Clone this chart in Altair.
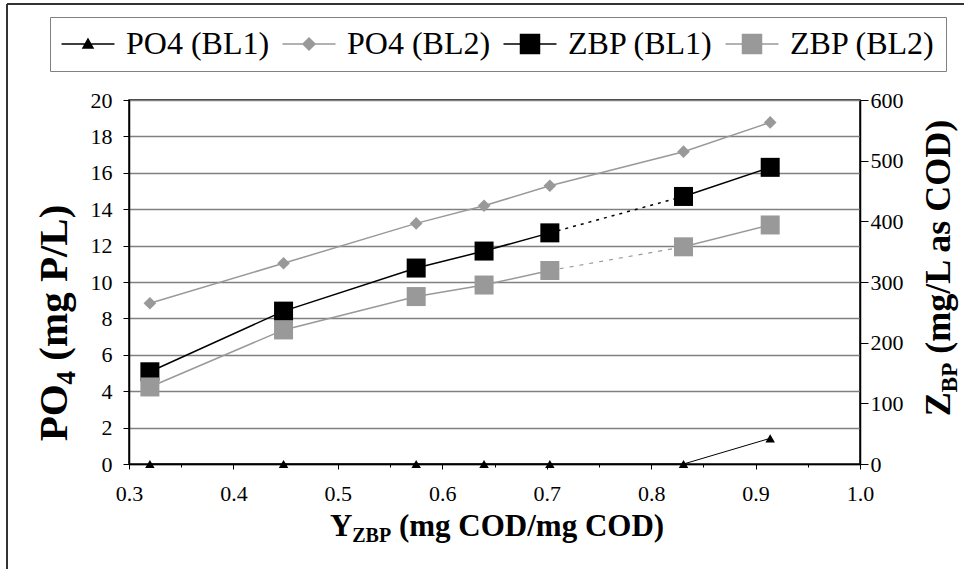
import altair as alt
import pandas as pd
import numpy as np

# ---------------- data ----------------
x_vals = [0.320, 0.448, 0.575, 0.640, 0.703, 0.831, 0.914]
po4_bl1 = [0, 0, 0, 0, 0, 0, 1.41]
po4_bl2 = [8.83, 11.03, 13.22, 14.19, 15.29, 17.16, 18.77]
zbp_bl1 = [152, 252, 323, 351, 381, 441, 489]
zbp_bl2 = [127, 221, 276, 295, 319, 358, 394]
series_names = ["PO4 (BL1)", "PO4 (BL2)", "ZBP (BL1)", "ZBP (BL2)"]
x_ticks = [round(0.3 + 0.05 * i, 2) for i in range(15)]
left_ticks = list(range(0, 21, 2))
right_ticks = list(range(0, 601, 100))
gap_start = 4  # ZBP lines are dotted between this point and the next

# ---------------- styling ----------------
W, H = 731, 364
PAD = {"left": 129, "top": 100, "right": 104, "bottom": 105}
BLACK, GRAY, GRID = "#000000", "#999999", "#808080"
SERIF = "Liberation Serif"

rows = []
for name, vals in zip(series_names, [po4_bl1, po4_bl2, zbp_bl1, zbp_bl2]):
    for i, (xv, yv) in enumerate(zip(x_vals, vals)):
        rows.append({"series": name, "x": xv, "y": yv, "idx": i})
df = pd.DataFrame(rows)
df["seg"] = np.where(df["idx"] <= gap_start, "a", "b")
zbp = df[df["series"].str.startswith("ZBP")]
zbp_gap = zbp[zbp["idx"].isin([gap_start, gap_start + 1])]

x_enc = alt.X(
    "x:Q",
    scale=alt.Scale(domain=[0.3, 1.0], nice=False, zero=False),
    axis=alt.Axis(
        values=x_ticks,
        labelExpr="(round(datum.value*100) % 10 == 0) ? format(datum.value, '.1f') : ''",
        title=None, grid=False, domainColor=BLACK, domainWidth=1.5,
        tickColor=BLACK, tickWidth=1,
        tickSize={"condition": {"test": "round(datum.value*100) % 10 == 0", "value": 5}, "value": 3},
        labelFont=SERIF, labelFontSize=22, labelColor=BLACK, labelPadding=14,
        labelFlush=False,
    ),
)
yl_scale = alt.Scale(domain=[0, 20], nice=False)
yr_scale = alt.Scale(domain=[0, 600], nice=False)
yl_axis = alt.Axis(
    orient="left", values=left_ticks, title=None, grid=True, gridColor=GRID,
    gridWidth=1.5, domainColor=BLACK, domainWidth=1.5, tickColor=BLACK, tickSize=6,
    labelFont=SERIF, labelFontSize=22, labelColor=BLACK, labelPadding=11,
)
yr_axis = alt.Axis(
    orient="right", values=right_ticks, title=None, grid=False,
    domainColor=BLACK, domainWidth=1.5, tickColor=BLACK, tickSize=8,
    labelFont=SERIF, labelFontSize=22, labelColor=BLACK, labelPadding=2,
)

def ser(data, name):
    return alt.Chart(data).transform_filter(alt.datum.series == name)

yl = alt.Y("y:Q", scale=yl_scale, axis=yl_axis)
yr = alt.Y("y:Q", scale=yr_scale, axis=yr_axis)

po4_line1 = ser(df, "PO4 (BL1)").mark_line(color=BLACK, strokeWidth=1).encode(x=x_enc, y=yl)
po4_line2 = ser(df, "PO4 (BL2)").mark_line(color=GRAY, strokeWidth=1.5).encode(x=x_enc, y=yl)
po4_pt1 = ser(df, "PO4 (BL1)").mark_point(shape="triangle-up", filled=True, size=90, color=BLACK, opacity=1).encode(x=x_enc, y=yl)
po4_pt2 = ser(df, "PO4 (BL2)").mark_point(shape="diamond", filled=True, size=160, color=GRAY, opacity=1).encode(x=x_enc, y=yl)

# legend built from scales (no visible marks)
leg_paths = [
    "M-5.3,0H5.3M0,-1L1,0.8L-1,0.8Z",
    "M-5.3,0H5.3M-1.2,0L0,-1.2L1.2,0L0,1.2Z",
    "M-5.3,0H5.3M-1.9,-1.9H1.9V1.9H-1.9Z",
    "M-5.3,0H5.3M-1.9,-1.9H1.9V1.9H-1.9Z",
]
leg_colors = [BLACK, GRAY, BLACK, GRAY]
leg = alt.Legend(
    title=None, orient="none", legendX=-79, legendY=-83, direction="horizontal",
    columns=4, labelFont=SERIF, labelFontSize=32, labelColor=BLACK,
    symbolSize=100, symbolStrokeWidth=1.5, symbolOffset=11, labelOffset=22,
    columnPadding=9, padding=11, strokeColor=GRID, labelLimit=400,
)
cscale = alt.Scale(domain=series_names, range=leg_colors)
legend_layer = alt.Chart(df).transform_filter("false").mark_point(opacity=1, strokeWidth=1.5).encode(
    x=x_enc, y=yl,
    fill=alt.Fill("series:N", scale=cscale, legend=leg),
    stroke=alt.Stroke("series:N", scale=cscale, legend=leg),
    shape=alt.Shape("series:N", scale=alt.Scale(domain=series_names, range=leg_paths), legend=leg),
)

left = alt.layer(po4_line2, po4_line1, po4_pt2, po4_pt1, legend_layer)

zl1 = ser(zbp, "ZBP (BL1)").mark_line(color=BLACK, strokeWidth=1.5).encode(x=x_enc, y=yr, detail="seg:N")
zl2 = ser(zbp, "ZBP (BL2)").mark_line(color=GRAY, strokeWidth=1.5).encode(x=x_enc, y=yr, detail="seg:N")
zd1 = ser(zbp_gap, "ZBP (BL1)").mark_line(color=BLACK, strokeWidth=1.5, strokeDash=[3, 5]).encode(x=x_enc, y=yr)
zd2 = ser(zbp_gap, "ZBP (BL2)").mark_line(color=GRAY, strokeWidth=1.2, strokeDash=[4, 6]).encode(x=x_enc, y=yr)
zp1 = ser(zbp, "ZBP (BL1)").mark_point(shape="square", filled=True, size=361, color=BLACK, opacity=1).encode(x=x_enc, y=yr)
zp2 = ser(zbp, "ZBP (BL2)").mark_point(shape="square", filled=True, size=361, color=GRAY, opacity=1).encode(x=x_enc, y=yr)
right = alt.layer(zl1, zd1, zp1, zl2, zd2, zp2)

# ---------------- titles with subscripts ----------------
BOLD_W = {" ": .25, "(": .333, ")": .333, "/": .278, "B": .667, "C": .722, "D": .722,
          "L": .667, "O": .778, "P": .611, "Y": .722, "Z": .667, "a": .5, "g": .5,
          "m": .833, "s": .389, "4": .5}

def tw(s, size):
    return sum(BOLD_W.get(c, .5) for c in s) * size

one = alt.Data(values=[{"k": 1}])

def piece(txt, x, y, size, angle=0):
    return alt.Chart(one).mark_text(
        text=txt, font=SERIF, fontSize=size, fontWeight="bold", align="left",
        baseline="alphabetic", angle=angle, color=BLACK,
    ).encode(x=alt.value(x - PAD["left"]), y=alt.value(y - PAD["top"]))

def lead(t, s):
    stripped = t.lstrip(" ")
    return stripped, tw(t[: len(t) - len(stripped)], s)

def hor_title(parts, cx, base_y):
    total = sum(tw(t, s) for t, s, d in parts)
    x = cx - total / 2
    out = []
    for t, s, d in parts:
        txt, sp = lead(t, s)
        out.append(piece(txt, x + sp, base_y + d, s))
        x += tw(t, s)
    return out

def ver_title(parts, cy, base_x):
    total = sum(tw(t, s) for t, s, d in parts)
    y = cy + total / 2
    out = []
    for t, s, d in parts:
        txt, sp = lead(t, s)
        out.append(piece(txt, base_x + d, y - sp, s, angle=270))
        y -= tw(t, s)
    return out

titles = []
titles += hor_title([("Y", 31, 0), ("ZBP", 20, 6), (" (mg COD/mg COD)", 31, 0)], 497, 536)
titles += ver_title([("PO", 41, 0), ("4", 27, 8), (" (mg P/L)", 41, 0)], 323, 67)
titles += ver_title([("Z", 36, 0), ("BP", 23, 7), (" (mg/L as COD)", 36, 0)], 267, 950)

frame_l = alt.Chart(one).mark_rule(color="#333333", strokeWidth=2).encode(
    x=alt.value(7 - PAD["left"]), y=alt.value(4 - PAD["top"]), y2=alt.value(569 - PAD["top"]))
frame_t = alt.Chart(one).mark_rule(color="#333333", strokeWidth=2).encode(
    x=alt.value(7 - PAD["left"]), x2=alt.value(964 - PAD["left"]), y=alt.value(4 - PAD["top"]))

chart = alt.layer(left, right, frame_l, frame_t, *titles).resolve_scale(
    y="independent"
).properties(
    width=W, height=H, padding=PAD, autosize=alt.AutoSizeParams(type="none"),
    background="white",
).configure(
    font=SERIF
).configure_axis(
    labelFont=SERIF, labelFontSize=22, labelColor=BLACK
).configure_legend(
    labelFont=SERIF, labelFontSize=32, labelColor=BLACK
).configure_view(stroke=BLACK, strokeWidth=1.5)

chart.save("out.html", embed_options={"renderer": "svg", "actions": False})
